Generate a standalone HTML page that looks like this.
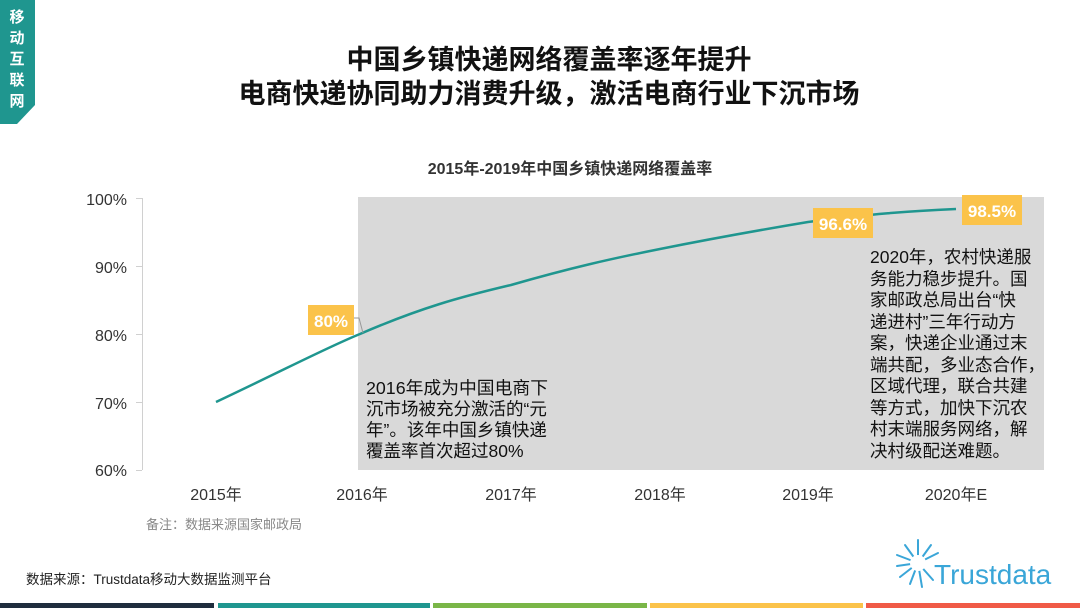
<!DOCTYPE html>
<html><head><meta charset="utf-8"><style>
body{margin:0;width:1080px;height:608px;overflow:hidden;background:#fff;font-family:"Liberation Sans","Noto Sans CJK SC",sans-serif;}
svg text{font-family:"Liberation Sans","Noto Sans CJK SC",sans-serif;}
</style></head><body>
<svg width="1080" height="608" viewBox="0 0 1080 608" xmlns="http://www.w3.org/2000/svg">
<polygon points="0,0 35,0 35,105 17,124 0,124" fill="#1f968f"/>
<g fill="#fff" font-size="15" font-weight="bold" text-anchor="middle">
<text x="17" y="22">移</text><text x="17" y="43">动</text><text x="17" y="64">互</text><text x="17" y="85">联</text><text x="17" y="106">网</text></g>
<g font-size="27" font-weight="bold" fill="#111" text-anchor="middle">
<text x="549" y="69">中国乡镇快递网络覆盖率逐年提升</text>
<text x="549" y="103">电商快递协同助力消费升级，激活电商行业下沉市场</text></g>
<text x="570" y="174" font-size="16" font-weight="bold" fill="#333" text-anchor="middle">2015年-2019年中国乡镇快递网络覆盖率</text>
<rect x="358" y="197" width="686" height="273" fill="#d9d9d9"/>
<g stroke="#d0d0d0" stroke-width="1">
<line x1="142.5" y1="198" x2="142.5" y2="470"/>
<line x1="136" y1="198.5" x2="142" y2="198.5"/><line x1="136" y1="266.5" x2="142" y2="266.5"/><line x1="136" y1="334.5" x2="142" y2="334.5"/><line x1="136" y1="402.5" x2="142" y2="402.5"/><line x1="136" y1="470.5" x2="142" y2="470.5"/></g>
<g font-size="16" fill="#333" text-anchor="end">
<text x="127" y="205">100%</text><text x="127" y="273">90%</text><text x="127" y="341">80%</text><text x="127" y="409">70%</text><text x="127" y="476">60%</text></g>
<g font-size="16" fill="#333" text-anchor="middle">
<text x="216" y="500">2015年</text><text x="362" y="500">2016年</text><text x="511" y="500">2017年</text><text x="660" y="500">2018年</text><text x="808" y="500">2019年</text><text x="956" y="500">2020年E</text></g>
<path d="M216,402 C290,367 330,346 360,334 C420,308 460,297 511,285 C570,268 610,259 660,249 C720,237 760,230 808,222 C870,214 910,211 956,209" fill="none" stroke="#1f968f" stroke-width="2.5"/>
<polyline points="353,318 359,318 363,333" fill="none" stroke="#999" stroke-width="1"/>
<rect x="308" y="305" width="46" height="30" fill="#fbc34a"/>
<text x="331" y="327" font-size="17" font-weight="bold" fill="#fff" text-anchor="middle">80%</text>
<rect x="813" y="208" width="60" height="30" fill="#fbc34a"/>
<text x="843" y="230" font-size="17" font-weight="bold" fill="#fff" text-anchor="middle">96.6%</text>
<rect x="962" y="195" width="60" height="30" fill="#fbc34a"/>
<text x="992" y="217" font-size="17" font-weight="bold" fill="#fff" text-anchor="middle">98.5%</text>
<g font-size="17.5" fill="#111">
<text x="366" y="394" textLength="182" lengthAdjust="spacingAndGlyphs">2016年成为中国电商下</text><text x="366" y="415">沉市场被充分激活的“元</text><text x="366" y="436">年”。该年中国乡镇快递</text><text x="366" y="457">覆盖率首次超过80%</text>
<text x="870" y="263">2020年，农村快递服</text><text x="870" y="285">务能力稳步提升。国</text><text x="870" y="306">家邮政总局出台“快</text><text x="870" y="328">递进村”三年行动方</text><text x="870" y="349">案，快递企业通过末</text><text x="870" y="371">端共配，多业态合作，</text><text x="870" y="392">区域代理，联合共建</text><text x="870" y="414">等方式，加快下沉农</text><text x="870" y="435">村末端服务网络，解</text><text x="870" y="457">决村级配送难题。</text></g>
<text x="146" y="529" font-size="13" fill="#888">备注：数据来源国家邮政局</text>
<text x="26" y="584" font-size="13.5" fill="#222">数据来源：Trustdata移动大数据监测平台</text>
<g stroke="#3aa6d8" stroke-width="2" stroke-linecap="round">
<line x1="918" y1="563" x2="918" y2="540"/><line x1="918" y1="563" x2="905" y2="545"/><line x1="918" y1="563" x2="931" y2="545"/>
<line x1="918" y1="563" x2="897" y2="555"/><line x1="918" y1="563" x2="897" y2="566"/><line x1="918" y1="563" x2="900" y2="577"/>
<line x1="918" y1="563" x2="910" y2="584"/><line x1="918" y1="563" x2="922" y2="587"/><line x1="918" y1="563" x2="933" y2="580"/><line x1="918" y1="563" x2="938" y2="553"/></g>
<circle cx="918" cy="563" r="8" fill="#fff"/>
<text x="934" y="584" font-size="28" fill="#3aa6d8">Trustdata</text>
<rect x="0" y="603" width="214" height="5" fill="#1f2d3d"/>
<rect x="218" y="603" width="212" height="5" fill="#1f968f"/>
<rect x="433" y="603" width="214" height="5" fill="#7ab648"/>
<rect x="650" y="603" width="213" height="5" fill="#fbc34a"/>
<rect x="866" y="603" width="214" height="5" fill="#f05a47"/>
</svg>
</body></html>
